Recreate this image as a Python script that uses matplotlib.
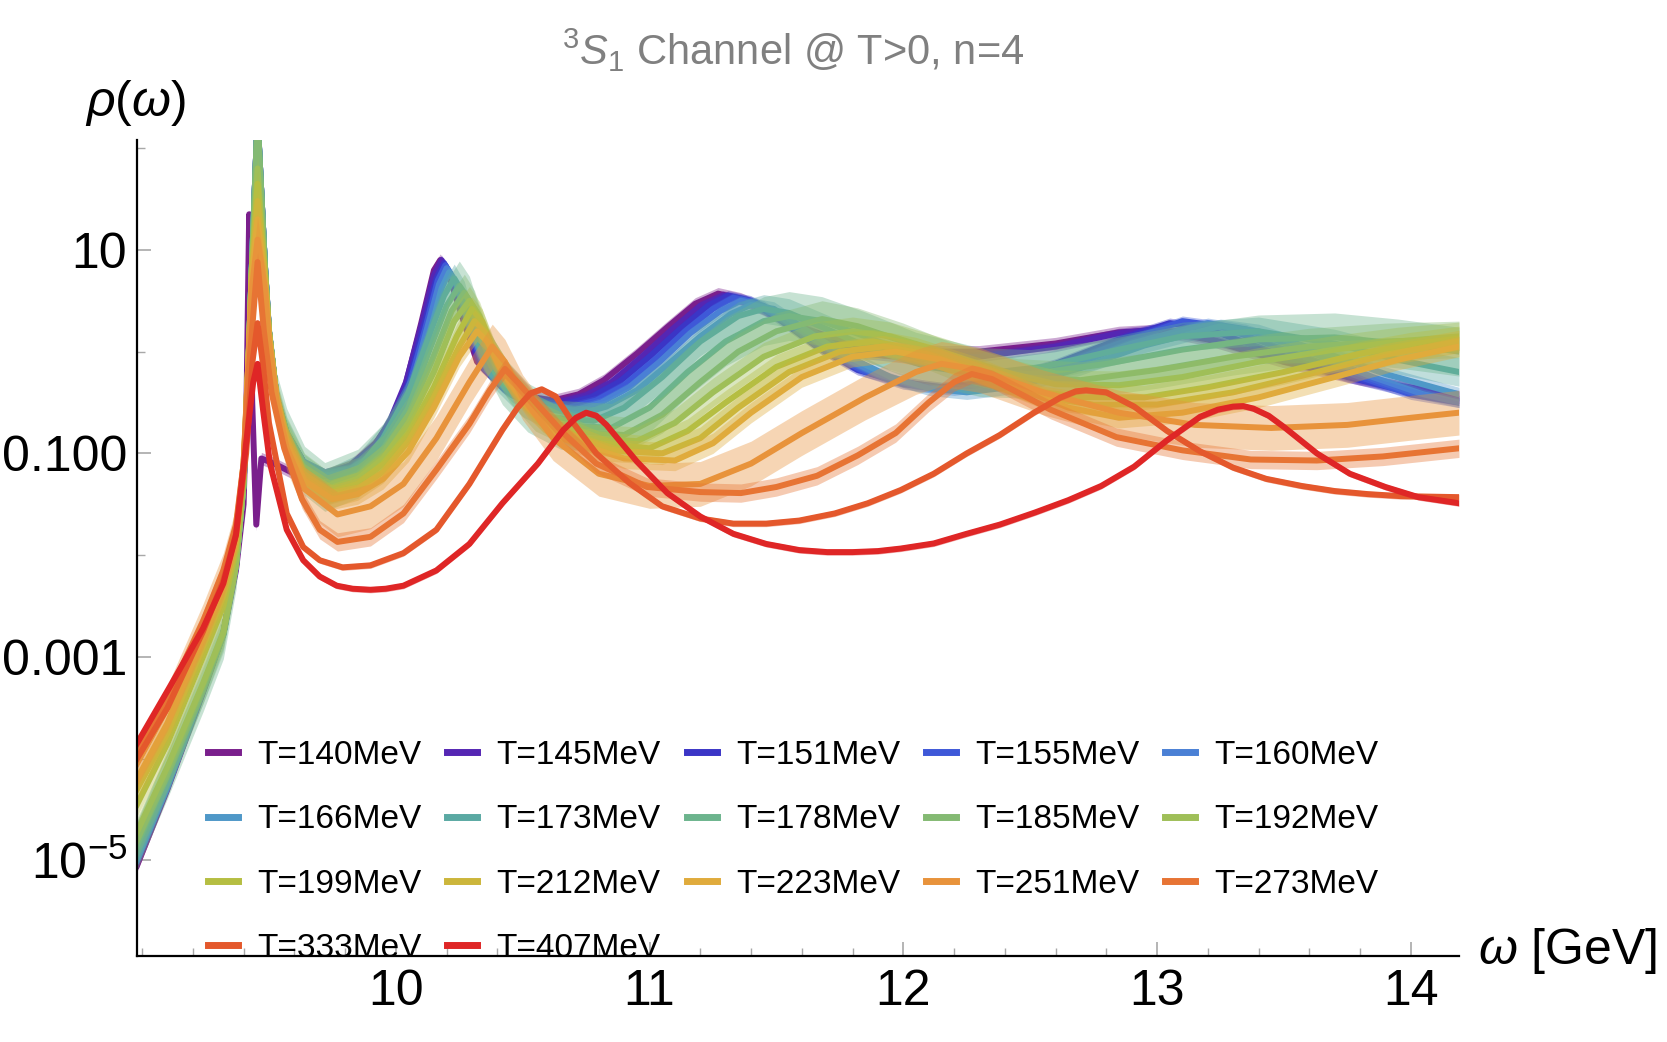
import numpy as np
import matplotlib
matplotlib.use("Agg")
import matplotlib.pyplot as plt
from matplotlib.lines import Line2D
from matplotlib.ticker import NullFormatter

plt.rcParams['font.family'] = ['Liberation Sans', 'DejaVu Sans']
plt.rcParams['mathtext.fontset'] = 'custom'
plt.rcParams['mathtext.rm'] = 'Liberation Sans'
plt.rcParams['mathtext.it'] = 'Liberation Sans:italic'

# temperatures (MeV) and the colours of the rainbow scheme
temps = [140, 145, 151, 155, 160, 166, 173, 178, 185, 192, 199, 212, 223, 251, 273, 333, 407]
colors = ['#7a1f8c', '#5526b3', '#3b35c6', '#3e58d8', '#4a80d5', '#4f98c8', '#5aa9a3',
          '#6cb48d', '#84ba73', '#9fbf58', '#b5be42', '#ccb63b', '#e0ab3c', '#e8933b',
          '#e77434', '#e4582c', '#df2626']

# (omega [GeV], log10 rho)
pts_140 = [(8.98, -5.05), (9.10, -4.3), (9.24, -3.35), (9.32, -2.78), (9.37, -2.15), (9.40, -1.5),
           (9.412, -0.4), (9.422, 1.35), (9.434, -0.5), (9.45, -1.7), (9.47, -1.05), (9.52, -1.1),
           (9.6, -1.2), (9.72, -1.22), (9.82, -1.12), (9.92, -0.9), (9.98, -0.68), (10.03, -0.41),
           (10.10, 0.28), (10.15, 0.8), (10.175, 0.9), (10.21, 0.75), (10.26, 0.35), (10.32, -0.1),
           (10.42, -0.33), (10.52, -0.44), (10.62, -0.48), (10.72, -0.42), (10.82, -0.28),
           (10.95, -0.02), (11.07, 0.24), (11.18, 0.47), (11.27, 0.57), (11.36, 0.52), (11.48, 0.38),
           (11.62, 0.22), (11.8, 0.07), (12.0, 0.0), (12.3, 0.0), (12.6, 0.08), (12.85, 0.19),
           (13.0, 0.21), (13.2, 0.12), (13.5, -0.1), (13.8, -0.27), (14.19, -0.45)]
pts_145 = [(8.98, -5.0), (9.10, -4.28), (9.24, -3.33), (9.32, -2.77), (9.37, -2.1), (9.40, -1.3),
           (9.418, -0.2), (9.432, 0.8), (9.455, 2.3), (9.485, 0.8), (9.50, 0.2), (9.53, -0.45),
           (9.57, -0.8), (9.64, -1.1), (9.72, -1.2), (9.82, -1.12), (9.92, -0.92), (9.98, -0.66),
           (10.04, -0.3), (10.10, 0.25), (10.15, 0.75), (10.18, 0.9), (10.22, 0.72), (10.27, 0.3),
           (10.33, -0.12), (10.42, -0.35), (10.52, -0.46), (10.64, -0.5), (10.75, -0.43),
           (10.85, -0.3), (10.97, -0.05), (11.09, 0.22), (11.2, 0.45), (11.29, 0.55), (11.38, 0.5),
           (11.5, 0.35), (11.65, 0.15), (11.85, -0.02), (12.05, -0.07), (12.3, -0.05), (12.6, 0.05),
           (12.85, 0.18), (13.0, 0.22), (13.2, 0.13), (13.5, -0.08), (13.8, -0.27), (14.19, -0.43)]
pts_151 = [(8.98, -5.0), (9.10, -4.28), (9.24, -3.33), (9.32, -2.77), (9.37, -2.1), (9.40, -1.3),
           (9.418, -0.2), (9.432, 0.8), (9.455, 2.3), (9.485, 0.8), (9.50, 0.2), (9.53, -0.45),
           (9.57, -0.8), (9.64, -1.1), (9.72, -1.2), (9.82, -1.14), (9.92, -0.95), (9.99, -0.65),
           (10.05, -0.3), (10.11, 0.25), (10.16, 0.72), (10.19, 0.87), (10.23, 0.7), (10.28, 0.28),
           (10.34, -0.15), (10.43, -0.37), (10.54, -0.48), (10.66, -0.52), (10.77, -0.45),
           (10.88, -0.3), (11.0, -0.05), (11.12, 0.22), (11.23, 0.45), (11.31, 0.55), (11.4, 0.5),
           (11.52, 0.3), (11.66, 0.05), (11.82, -0.18), (12.0, -0.3), (12.15, -0.35), (12.35, -0.3),
           (12.6, -0.12), (12.85, 0.12), (13.05, 0.28), (13.2, 0.22), (13.45, 0.0), (13.75, -0.25),
           (14.0, -0.4), (14.19, -0.48)]
pts_155 = [(8.98, -5.0), (9.10, -4.28), (9.24, -3.33), (9.32, -2.77), (9.37, -2.1), (9.40, -1.3),
           (9.418, -0.2), (9.432, 0.8), (9.455, 2.3), (9.485, 0.8), (9.50, 0.2), (9.53, -0.45),
           (9.57, -0.8), (9.64, -1.1), (9.72, -1.2), (9.82, -1.15), (9.92, -0.97), (9.99, -0.7),
           (10.05, -0.35), (10.115, 0.22), (10.165, 0.7), (10.195, 0.85), (10.235, 0.68),
           (10.285, 0.26), (10.35, -0.17), (10.44, -0.39), (10.56, -0.5), (10.68, -0.55),
           (10.79, -0.48), (10.9, -0.33), (11.02, -0.08), (11.14, 0.2), (11.25, 0.42), (11.33, 0.53),
           (11.42, 0.48), (11.54, 0.28), (11.68, 0.02), (11.85, -0.2), (12.0, -0.32), (12.15, -0.36),
           (12.35, -0.32), (12.6, -0.15), (12.85, 0.08), (13.1, 0.3), (13.25, 0.25), (13.5, 0.02),
           (13.8, -0.25), (14.0, -0.42), (14.19, -0.5)]
pts_160 = [(8.98, -5.0), (9.10, -4.28), (9.24, -3.33), (9.32, -2.77), (9.37, -2.1), (9.40, -1.3),
           (9.418, -0.2), (9.432, 0.8), (9.455, 2.3), (9.485, 0.8), (9.50, 0.2), (9.53, -0.45),
           (9.57, -0.8), (9.64, -1.1), (9.72, -1.2), (9.82, -1.16), (9.92, -1.0), (10.0, -0.7),
           (10.06, -0.36), (10.12, 0.2), (10.17, 0.66), (10.20, 0.82), (10.24, 0.66), (10.29, 0.25),
           (10.36, -0.18), (10.45, -0.4), (10.57, -0.52), (10.70, -0.58), (10.81, -0.5),
           (10.92, -0.35), (11.04, -0.1), (11.16, 0.18), (11.28, 0.4), (11.36, 0.5), (11.45, 0.45),
           (11.57, 0.25), (11.72, 0.0), (11.9, -0.22), (12.05, -0.34), (12.2, -0.38), (12.4, -0.32),
           (12.65, -0.15), (12.9, 0.08), (13.2, 0.28), (13.35, 0.22), (13.6, 0.0), (13.85, -0.25),
           (14.05, -0.42), (14.19, -0.5)]
pts_166 = [(8.98, -4.97), (9.10, -4.25), (9.24, -3.32), (9.32, -2.77), (9.37, -2.1), (9.40, -1.3),
           (9.418, -0.2), (9.432, 0.8), (9.455, 2.3), (9.485, 0.8), (9.50, 0.2), (9.53, -0.45),
           (9.57, -0.8), (9.64, -1.12), (9.72, -1.22), (9.82, -1.18), (9.92, -1.02), (10.0, -0.75),
           (10.07, -0.38), (10.13, 0.15), (10.18, 0.62), (10.21, 0.78), (10.25, 0.62), (10.30, 0.22),
           (10.37, -0.2), (10.46, -0.43), (10.58, -0.55), (10.72, -0.62), (10.83, -0.54),
           (10.95, -0.38), (11.07, -0.13), (11.2, 0.15), (11.32, 0.37), (11.40, 0.46), (11.49, 0.42),
           (11.6, 0.24), (11.76, -0.02), (11.95, -0.25), (12.1, -0.36), (12.25, -0.4), (12.45, -0.34),
           (12.7, -0.16), (12.95, 0.06), (13.25, 0.25), (13.4, 0.2), (13.65, 0.0), (13.9, -0.22),
           (14.19, -0.42)]
pts_173 = [(8.98, -4.88), (9.10, -4.18), (9.24, -3.32), (9.32, -2.78), (9.37, -2.1), (9.40, -1.3),
           (9.418, -0.2), (9.432, 0.8), (9.455, 2.3), (9.485, 0.8), (9.50, 0.2), (9.53, -0.45),
           (9.57, -0.8), (9.64, -1.15), (9.72, -1.3), (9.85, -1.15), (9.95, -0.85), (10.05, -0.4),
           (10.13, 0.15), (10.19, 0.55), (10.23, 0.72), (10.27, 0.55), (10.32, 0.1), (10.4, -0.25),
           (10.5, -0.5), (10.62, -0.65), (10.78, -0.68), (10.9, -0.55), (11.05, -0.25), (11.2, 0.1),
           (11.35, 0.35), (11.45, 0.42), (11.55, 0.38), (11.7, 0.22), (11.9, 0.0), (12.1, -0.15),
           (12.3, -0.22), (12.55, -0.15), (12.85, 0.02), (13.1, 0.15), (13.4, 0.2), (13.7, 0.08),
           (13.95, -0.08), (14.19, -0.2)]
pts_178 = [(8.98, -4.85), (9.10, -4.15), (9.24, -3.3), (9.32, -2.78), (9.37, -2.1), (9.40, -1.3),
           (9.418, -0.2), (9.432, 0.8), (9.455, 2.3), (9.485, 0.8), (9.50, 0.2), (9.53, -0.45),
           (9.57, -0.8), (9.64, -1.17), (9.72, -1.33), (9.85, -1.2), (9.95, -0.95), (10.05, -0.55),
           (10.13, 0.0), (10.2, 0.45), (10.25, 0.65), (10.29, 0.5), (10.34, 0.1), (10.42, -0.28),
           (10.52, -0.55), (10.65, -0.72), (10.85, -0.75), (11.0, -0.55), (11.15, -0.2), (11.3, 0.1),
           (11.45, 0.3), (11.55, 0.35), (11.68, 0.3), (11.85, 0.15), (12.05, -0.05), (12.3, -0.2),
           (12.5, -0.22), (12.8, -0.12), (13.1, 0.02), (13.4, 0.12), (13.7, 0.14), (13.95, 0.08),
           (14.19, 0.0)]
pts_185 = [(8.98, -4.8), (9.10, -4.12), (9.24, -3.28), (9.32, -2.77), (9.37, -2.1), (9.40, -1.3),
           (9.418, -0.2), (9.432, 0.8), (9.455, 2.3), (9.485, 0.8), (9.50, 0.2), (9.53, -0.45),
           (9.57, -0.82), (9.64, -1.18), (9.72, -1.33), (9.85, -1.22), (9.95, -1.0), (10.05, -0.62),
           (10.14, -0.1), (10.22, 0.4), (10.27, 0.58), (10.31, 0.42), (10.36, 0.05), (10.45, -0.32),
           (10.55, -0.6), (10.7, -0.78), (10.9, -0.82), (11.05, -0.62), (11.2, -0.3), (11.35, 0.0),
           (11.5, 0.2), (11.68, 0.32), (11.82, 0.25), (12.0, 0.1), (12.2, -0.1), (12.45, -0.25),
           (12.7, -0.28), (13.0, -0.18), (13.3, -0.05), (13.6, 0.05), (13.9, 0.1), (14.19, 0.12)]
pts_192 = [(8.98, -4.72), (9.10, -4.08), (9.24, -3.26), (9.32, -2.76), (9.37, -2.1), (9.40, -1.3),
           (9.418, -0.2), (9.432, 0.8), (9.455, 1.8), (9.485, 0.75), (9.50, 0.2), (9.53, -0.45),
           (9.57, -0.82), (9.64, -1.2), (9.73, -1.35), (9.85, -1.25), (9.95, -1.05), (10.05, -0.7),
           (10.15, -0.2), (10.23, 0.3), (10.29, 0.5), (10.33, 0.35), (10.38, 0.0), (10.47, -0.35),
           (10.58, -0.65), (10.75, -0.85), (10.95, -0.88), (11.1, -0.7), (11.25, -0.4),
           (11.45, -0.05), (11.65, 0.15), (11.8, 0.2), (11.95, 0.15), (12.15, 0.0), (12.4, -0.2),
           (12.6, -0.32), (12.85, -0.33), (13.1, -0.25), (13.4, -0.1), (13.7, 0.02), (13.95, 0.1),
           (14.19, 0.15)]
pts_199 = [(8.98, -4.45), (9.10, -3.85), (9.24, -3.0), (9.32, -2.5), (9.37, -1.95), (9.40, -1.2),
           (9.418, -0.15), (9.432, 0.8), (9.455, 1.65), (9.485, 0.75), (9.50, 0.2), (9.53, -0.45),
           (9.57, -0.85), (9.64, -1.22), (9.74, -1.38), (9.85, -1.3), (9.95, -1.1), (10.05, -0.8),
           (10.15, -0.35), (10.24, 0.15), (10.3, 0.42), (10.34, 0.3), (10.39, -0.02), (10.48, -0.38),
           (10.6, -0.7), (10.8, -0.9), (11.0, -0.95), (11.15, -0.78), (11.3, -0.5), (11.5, -0.15),
           (11.7, 0.05), (11.88, 0.1), (12.05, 0.02), (12.3, -0.18), (12.5, -0.38), (12.7, -0.45),
           (12.95, -0.45), (13.2, -0.35), (13.5, -0.2), (13.8, -0.02), (14.0, 0.07), (14.19, 0.13)]
pts_212 = [(8.98, -4.3), (9.10, -3.75), (9.24, -2.9), (9.32, -2.4), (9.37, -1.9), (9.40, -1.15),
           (9.418, -0.15), (9.432, 0.75), (9.455, 1.48), (9.485, 0.7), (9.50, 0.18), (9.53, -0.45),
           (9.57, -0.87), (9.64, -1.25), (9.75, -1.42), (9.85, -1.35), (9.95, -1.18), (10.05, -0.88),
           (10.15, -0.45), (10.25, 0.05), (10.31, 0.3), (10.35, 0.2), (10.4, -0.08), (10.5, -0.45),
           (10.62, -0.75), (10.85, -0.97), (11.05, -1.0), (11.2, -0.85), (11.35, -0.55),
           (11.55, -0.2), (11.75, 0.0), (11.92, 0.05), (12.1, -0.03), (12.35, -0.25), (12.55, -0.45),
           (12.75, -0.52), (13.0, -0.52), (13.3, -0.4), (13.6, -0.22), (13.9, -0.03), (14.19, 0.1)]
pts_223 = [(8.98, -4.2), (9.10, -3.65), (9.24, -2.8), (9.32, -2.3), (9.37, -1.85), (9.40, -1.1),
           (9.418, -0.15), (9.432, 0.7), (9.455, 1.3), (9.485, 0.65), (9.50, 0.15), (9.53, -0.47),
           (9.57, -0.9), (9.64, -1.27), (9.75, -1.45), (9.85, -1.4), (9.95, -1.25), (10.05, -0.98),
           (10.15, -0.55), (10.25, -0.05), (10.32, 0.2), (10.36, 0.1), (10.42, -0.2), (10.52, -0.55),
           (10.65, -0.85), (10.9, -1.05), (11.1, -1.07), (11.25, -0.9), (11.4, -0.6), (11.6, -0.25),
           (11.8, -0.05), (11.97, 0.0), (12.15, -0.08), (12.4, -0.3), (12.65, -0.55), (12.85, -0.65),
           (13.1, -0.6), (13.4, -0.45), (13.7, -0.25), (13.95, -0.08), (14.19, 0.05)]
pts_251 = [(8.98, -4.05), (9.10, -3.5), (9.24, -2.7), (9.32, -2.2), (9.37, -1.75), (9.40, -1.1),
           (9.418, -0.15), (9.432, 0.6), (9.455, 1.1), (9.485, 0.6), (9.50, 0.1), (9.53, -0.5),
           (9.57, -0.95), (9.64, -1.35), (9.77, -1.6), (9.9, -1.52), (10.03, -1.3), (10.16, -0.85),
           (10.29, -0.3), (10.38, 0.05), (10.43, -0.1), (10.5, -0.45), (10.62, -0.85), (10.8, -1.2),
           (11.0, -1.32), (11.2, -1.3), (11.4, -1.1), (11.6, -0.8), (11.85, -0.45), (12.05, -0.2),
           (12.15, -0.12), (12.3, -0.18), (12.55, -0.4), (12.85, -0.6), (13.15, -0.72),
           (13.45, -0.75), (13.75, -0.72), (14.0, -0.65), (14.19, -0.6)]
pts_273 = [(8.98, -3.95), (9.10, -3.4), (9.24, -2.65), (9.32, -2.15), (9.37, -1.7), (9.40, -1.1),
           (9.42, -0.2), (9.455, 0.88), (9.48, 0.2), (9.51, -0.4), (9.56, -0.95), (9.63, -1.45),
           (9.7, -1.75), (9.77, -1.87), (9.9, -1.82), (10.03, -1.59), (10.16, -1.16), (10.29, -0.71),
           (10.37, -0.38), (10.43, -0.17), (10.48, -0.3), (10.53, -0.44), (10.66, -0.8),
           (10.79, -1.1), (10.99, -1.33), (11.2, -1.38), (11.36, -1.39), (11.5, -1.33),
           (11.66, -1.22), (11.82, -1.02), (11.97, -0.8), (12.1, -0.5), (12.2, -0.3), (12.27, -0.22),
           (12.35, -0.27), (12.58, -0.57), (12.84, -0.84), (13.1, -0.97), (13.37, -1.06),
           (13.63, -1.07), (13.89, -1.03), (14.19, -0.95)]
pts_333 = [(8.98, -4.0), (9.10, -3.5), (9.24, -2.75), (9.32, -2.25), (9.37, -1.8), (9.41, -1.0),
           (9.435, -0.1), (9.455, 0.28), (9.475, -0.1), (9.50, -0.7), (9.57, -1.59), (9.635, -1.92),
           (9.70, -2.05), (9.79, -2.12), (9.90, -2.10), (10.03, -1.98), (10.16, -1.75),
           (10.29, -1.3), (10.42, -0.77), (10.48, -0.55), (10.53, -0.41), (10.575, -0.37),
           (10.63, -0.44), (10.69, -0.67), (10.79, -1.0), (10.92, -1.29), (11.05, -1.52),
           (11.2, -1.64), (11.33, -1.69), (11.46, -1.69), (11.59, -1.66), (11.73, -1.59),
           (11.86, -1.49), (11.99, -1.36), (12.12, -1.2), (12.25, -1.0), (12.38, -0.82),
           (12.515, -0.6), (12.62, -0.45), (12.68, -0.39), (12.72, -0.38), (12.8, -0.4),
           (12.91, -0.54), (13.04, -0.78), (13.17, -0.98), (13.3, -1.14), (13.43, -1.25),
           (13.57, -1.32), (13.7, -1.37), (13.83, -1.4), (13.96, -1.42), (14.19, -1.43)]
pts_407 = [(8.98, -3.85), (9.11, -3.29), (9.24, -2.72), (9.32, -2.28), (9.37, -1.8), (9.41, -0.9),
           (9.438, -0.3), (9.455, -0.12), (9.478, -0.6), (9.504, -1.1), (9.57, -1.75),
           (9.635, -2.05), (9.70, -2.21), (9.767, -2.3), (9.83, -2.33), (9.90, -2.34), (9.96, -2.33),
           (10.03, -2.3), (10.16, -2.15), (10.29, -1.89), (10.42, -1.49), (10.56, -1.1),
           (10.66, -0.77), (10.71, -0.65), (10.75, -0.6), (10.79, -0.63), (10.83, -0.72),
           (10.87, -0.84), (10.95, -1.08), (11.07, -1.39), (11.2, -1.62), (11.33, -1.79),
           (11.46, -1.89), (11.59, -1.95), (11.7, -1.97), (11.8, -1.97), (11.9, -1.96),
           (11.99, -1.935), (12.12, -1.885), (12.25, -1.79), (12.38, -1.70), (12.52, -1.58),
           (12.65, -1.46), (12.78, -1.32), (12.91, -1.13), (13.04, -0.87), (13.17, -0.64),
           (13.24, -0.57), (13.3, -0.54), (13.34, -0.535), (13.38, -0.56), (13.44, -0.63),
           (13.5, -0.74), (13.63, -1.0), (13.76, -1.20), (13.9, -1.33), (14.03, -1.43),
           (14.19, -1.49)]

# half width of the error band, in decades
band_dex = [0.06, 0.05, 0.05, 0.05, 0.05, 0.07, 0.14, 0.24, 0.18, 0.14, 0.12, 0.11, 0.10,
            0.22, 0.09, 0.03, 0.03]

curves = [pts_140, pts_145, pts_151, pts_155, pts_160, pts_166, pts_173, pts_178, pts_185,
          pts_192, pts_199, pts_212, pts_223, pts_251, pts_273, pts_333, pts_407]

fig = plt.figure(figsize=(16.67, 10.42), dpi=100)
ax = fig.add_axes([0.0822, 0.0825, 0.793, 0.7831])

handles = []
for i, pts in enumerate(curves):
    w = np.array([p[0] for p in pts])
    lr = np.array([p[1] for p in pts])
    c = colors[i]
    b = band_dex[i]
    ax.fill_between(w, 10 ** (lr - b), 10 ** (lr + b), color=c, alpha=0.38, lw=0, zorder=2 + i)
    ax.plot(w, 10 ** lr, color=c, lw=4.3, solid_joinstyle='round', zorder=2.5 + i)
    handles.append(Line2D([], [], color=c, lw=5))

ax.set_yscale('log')
ax.set_xlim(8.98, 14.19)
ax.set_ylim(1.15e-6, 120)

ax.set_xticks([10, 11, 12, 13, 14])
ax.set_xticks(np.arange(9.0, 14.2, 0.2), minor=True)
ax.set_yticks([10, 0.1, 1e-3, 1e-5])
ax.set_yticklabels(['10', '0.100', '0.001', r'$10^{-5}$'])
ax.set_yticks([100, 1, 1e-2, 1e-4], minor=True)
ax.yaxis.set_minor_formatter(NullFormatter())
ax.xaxis.set_minor_formatter(NullFormatter())

ax.tick_params(which='major', direction='in', length=10, width=1.2, color='#a8a8a8', labelsize=36)
ax.tick_params(which='minor', direction='in', length=5.5, width=1.0, color='#a8a8a8')
ax.tick_params(axis='x', pad=9)
ax.tick_params(axis='y', pad=7)

for s in ['top', 'right']:
    ax.spines[s].set_visible(False)
for s in ['left', 'bottom']:
    ax.spines[s].set_linewidth(1.6)
    ax.spines[s].set_color('black')
    ax.spines[s].set_zorder(40)

# legend is filled column by column, so reorder to read row by row
ncol = 5
order = [r * ncol + c for c in range(ncol) for r in range(4) if r * ncol + c < len(temps)]
labels = [f'T={t}MeV' for t in temps]
leg = ax.legend([handles[k] for k in order], [labels[k] for k in order], ncol=ncol,
                loc='upper left', bbox_to_anchor=(208 / 1667, 1 - 740 / 1042),
                bbox_transform=fig.transFigure, frameon=False, fontsize=24,
                handlelength=0.9, handletextpad=0.58, columnspacing=0.77,
                labelspacing=1.0, borderpad=0, borderaxespad=0)
leg.set_zorder(30)

fig.text(0.476, 1 - 50 / 1042, r'$^{3}S_{1}$ Channel @ T>0, n=4', color='#808080',
         fontsize=30, ha='center', va='center')
fig.text(85 / 1667, 1 - 103 / 1042, r'$\rho(\omega)$', fontsize=36, ha='left', va='center')
fig.text(1478 / 1667, 1 - 951 / 1042, r'$\omega$ [GeV]', fontsize=36, ha='left', va='center')

fig.savefig('out.png', dpi=100)
